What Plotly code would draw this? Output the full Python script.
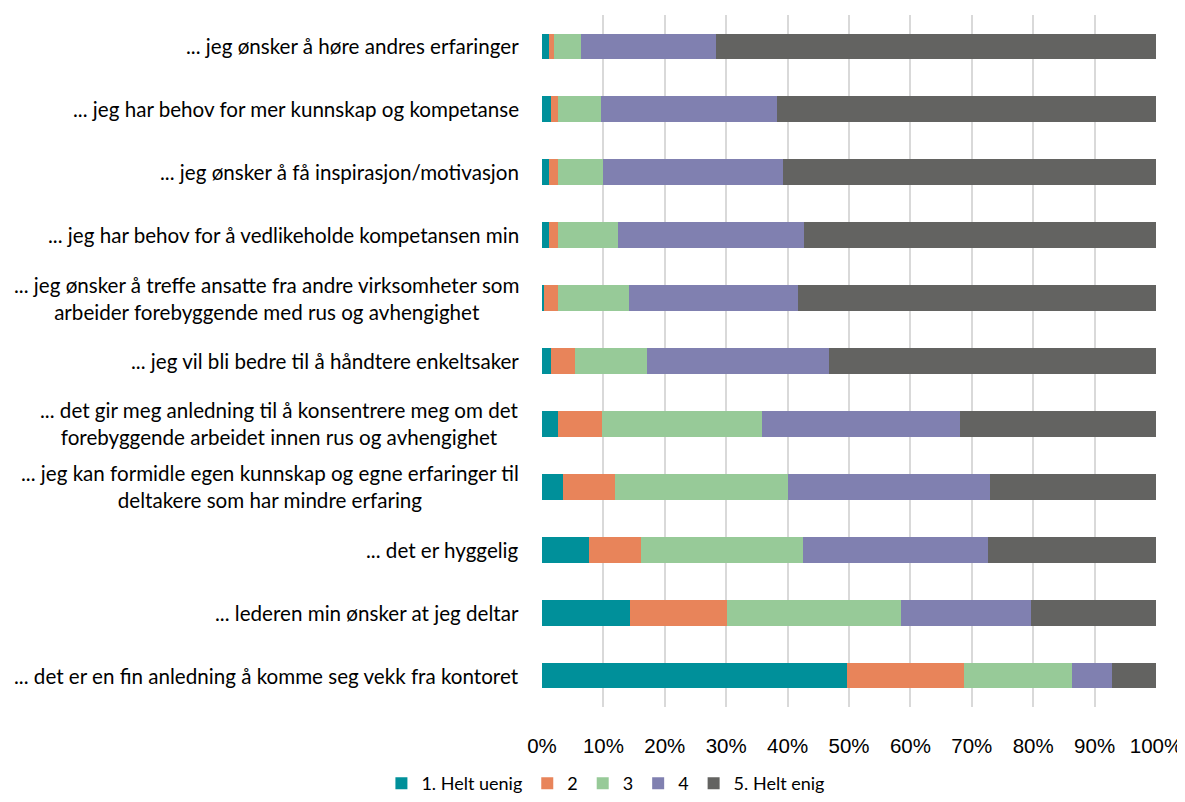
import plotly.graph_objects as go

categories = [
    "... jeg ønsker å høre andres erfaringer",
    "... jeg har behov for mer kunnskap og kompetanse",
    "... jeg ønsker å få inspirasjon/motivasjon",
    "... jeg har behov for å vedlikeholde kompetansen min",
    "... jeg ønsker å treffe ansatte fra andre virksomheter som<br>arbeider forebyggende med rus og avhengighet",
    "... jeg vil bli bedre til å håndtere enkeltsaker",
    "... det gir meg anledning til å konsentrere meg om det<br>forebyggende arbeidet innen rus og avhengighet",
    "... jeg kan formidle egen kunnskap og egne erfaringer til<br>deltakere som har mindre erfaring",
    "... det er hyggelig",
    "... lederen min ønsker at jeg deltar",
    "... det er en fin anledning å komme seg vekk fra kontoret",
]

s1_helt_uenig = [1.1, 1.4, 1.1, 1.1, 0.4, 1.4, 2.6, 3.5, 7.7, 14.4, 49.7]
s2 = [0.9, 1.2, 1.5, 1.5, 2.2, 3.9, 7.2, 8.4, 8.5, 15.7, 19.0]
s3 = [4.3, 7.0, 7.3, 9.7, 11.5, 11.8, 26.0, 28.2, 26.3, 28.4, 17.6]
s4 = [22.0, 28.6, 29.3, 30.4, 27.6, 29.6, 32.3, 32.9, 30.2, 21.2, 6.6]
s5_helt_enig = [71.7, 61.8, 60.8, 57.3, 58.3, 53.3, 31.9, 27.0, 27.3, 20.3, 7.1]

series_names = ["1. Helt uenig", "2", "3", "4", "5. Helt enig"]
series_values = [s1_helt_uenig, s2, s3, s4, s5_helt_enig]
colors = ["#00909A", "#E8845A", "#97CA98", "#8080B0", "#636361"]

tick_vals = list(range(0, 101, 10))
tick_text = [f"{v}%" for v in tick_vals]

keys = [c.replace("<br>", " ") for c in categories]

fig = go.Figure()
for name, vals, col in zip(series_names, series_values, colors):
    fig.add_trace(go.Bar(
        y=keys, x=vals, orientation="h", name=name,
        marker=dict(color=col, line=dict(width=0)),
    ))

for key, label in zip(keys, categories):
    fig.add_annotation(
        x=-0.034, xref="paper", y=key, yref="y",
        text=label, showarrow=False, xanchor="right", yanchor="middle",
        align="center", font=dict(family="Lato, Noto Sans, sans-serif", size=20.6, color="#000000"),
    )

fig.update_layout(
    barmode="stack",
    bargap=0.59,
    width=1177, height=794,
    margin=dict(l=534, r=29, t=7, b=95, autoexpand=False),
    plot_bgcolor="white", paper_bgcolor="white",
    showlegend=True,
    legend=dict(
        orientation="h", xref="container", yref="container",
        x=0.508, xanchor="center", y=-0.01, yanchor="bottom",
        font=dict(family="Lato, Noto Sans, sans-serif", size=18, color="#000000"),
        traceorder="normal",
    ),
    xaxis=dict(
        range=[0, 100], tickvals=tick_vals, ticktext=tick_text,
        showgrid=True, gridcolor="#D9D9D9", gridwidth=1.5,
        zeroline=False, showline=False,
        ticklabelstandoff=24,
        tickfont=dict(family="Liberation Sans, Arial, sans-serif", size=20.5, color="#000000"),
    ),
    yaxis=dict(
        autorange="reversed", showticklabels=False, showgrid=False,
        zeroline=False, showline=False, ticks="",
    ),
)

fig.write_html("out.html")
